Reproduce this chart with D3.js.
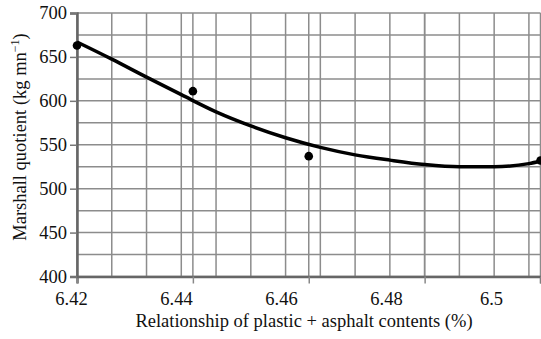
<!DOCTYPE html>
<html>
<head>
<meta charset="utf-8">
<script src="https://cdn.jsdelivr.net/npm/d3@7"></script>
<style>
  body { margin: 0; background: #fff; }
  .grid line { stroke: #8c8c8c; stroke-width: 1.5; }
</style>
</head>
<body>
<div id="chart"></div>
<script>

// Measured points
var contents = [6.42, 6.44, 6.46, 6.50];
var quotient = [663, 611, 537, 532];

// Fitted trend
var trendX = [6.42, 6.426, 6.432, 6.438, 6.444, 6.45, 6.456, 6.462, 6.468, 6.474, 6.48, 6.486, 6.492, 6.498, 6.50];
var trendY = [667, 647.5, 627, 607, 587.5, 571.5, 558, 547, 538.5, 532.5, 527.5, 525, 525, 528.5, 531.5];

// Axes
var xTicks = [6.42, 6.44, 6.46, 6.48, 6.50];
var xTickLabels = ["6.42", "6.44", "6.46", "6.48", "6.5"];
var xMinor = d3.range(0, 14).map(function(i){ return 6.42 + i * 0.006; });
var yTicks = [400, 450, 500, 550, 600, 650, 700];
var yMinor = [425, 475, 525, 575, 625, 675];

var width = 541, height = 339;
var serif = "Liberation Serif, Times New Roman, serif";
var fontSize = "18.5px";

// put the serif face straight on each text node
function serifText(sel){
  sel.style("font-family", serif)
    .style("font-size", fontSize)
    .style("fill", "#111");
}

var svg = d3.select("#chart").append("svg")
    .attr("width", width)
    .attr("height", height);

var x = d3.scaleLinear().domain([6.42, 6.50]).range([77, 540.5]);
// tick labels sit a little off the ticks in the original
var xLabel = d3.scaleLinear().domain([6.42, 6.50]).range([71, 491]);
var y = d3.scaleLinear().domain([400, 700]).range([276.5, 13]);

// Grid
var grid = svg.append("g").attr("class", "grid");
grid.selectAll(".vline")
    .data(xMinor.concat(xTicks))
    .enter().append("line")
    .attr("x1", function(d){ return x(d); })
    .attr("x2", function(d){ return x(d); })
    .attr("y1", y(700))
    .attr("y2", y(400));
grid.selectAll(".hline")
    .data(yTicks.concat(yMinor))
    .enter().append("line")
    .attr("x1", x(6.42))
    .attr("x2", x(6.50))
    .attr("y1", function(d){ return y(d); })
    .attr("y2", function(d){ return y(d); });

// Axes
var xAxis = d3.axisBottom(x).tickValues(xTicks).tickSize(7).tickFormat("");
svg.append("g")
    .attr("class", "x-axis axis")
    .attr("transform", "translate(0," + y(400) + ")")
    .call(xAxis)
    .call(function(g){
      g.select(".domain").attr("stroke", "#666").attr("stroke-width", 2.5);
      g.selectAll(".tick line").attr("stroke", "#888").attr("stroke-width", 1.5);
    });

svg.append("g")
    .attr("transform", "translate(0," + (y(400) + 12) + ")")
    .call(d3.axisBottom(xLabel).tickValues(xTicks).tickSize(0)
      .tickFormat(function(d, i){ return xTickLabels[i]; }))
    .call(function(g){
      g.select(".domain").remove();
      g.selectAll("text").call(serifText);
    });

var yAxis = d3.axisLeft(y).tickValues(yTicks).tickSize(7).tickPadding(3);
svg.append("g")
    .attr("class", "y-axis axis")
    .attr("transform", "translate(" + x(6.42) + ",0)")
    .call(yAxis)
    .call(function(g){
      g.select(".domain").attr("stroke", "#666").attr("stroke-width", 2.5);
      g.selectAll(".tick line").attr("stroke", "#777").attr("stroke-width", 1.5);
      g.selectAll("text").call(serifText);
    });

// Axis titles
svg.append("text")
    .attr("x", 304)
    .attr("y", 327)
    .style("text-anchor", "middle")
    .call(serifText)
    .text("Relationship of plastic + asphalt contents (%)");

var yTitle = svg.append("text")
    .attr("transform", "translate(26,137) rotate(-90)")
    .style("text-anchor", "middle")
    .call(serifText);
yTitle.append("tspan").text("Marshall quotient (kg mn");
yTitle.append("tspan").attr("dy", -7).style("font-size", "12px").text("\u22121");
yTitle.append("tspan").attr("dy", 7).text(")");

// Trend line
var line = d3.line()
    .x(function(d){ return x(d[0]); })
    .y(function(d){ return y(d[1]); })
    .curve(d3.curveMonotoneX);

svg.append("path")
    .datum(d3.zip(trendX, trendY))
    .attr("fill", "none")
    .attr("stroke", "#000")
    .attr("stroke-width", 3.5)
    .attr("d", line);

// Points
svg.selectAll(".pt")
    .data(d3.zip(contents, quotient))
    .enter().append("circle")
    .attr("class", "pt")
    .attr("cx", function(d){ return x(d[0]); })
    .attr("cy", function(d){ return y(d[1]); })
    .attr("r", 4.3)
    .attr("fill", "#000");

</script>
</body>
</html>
